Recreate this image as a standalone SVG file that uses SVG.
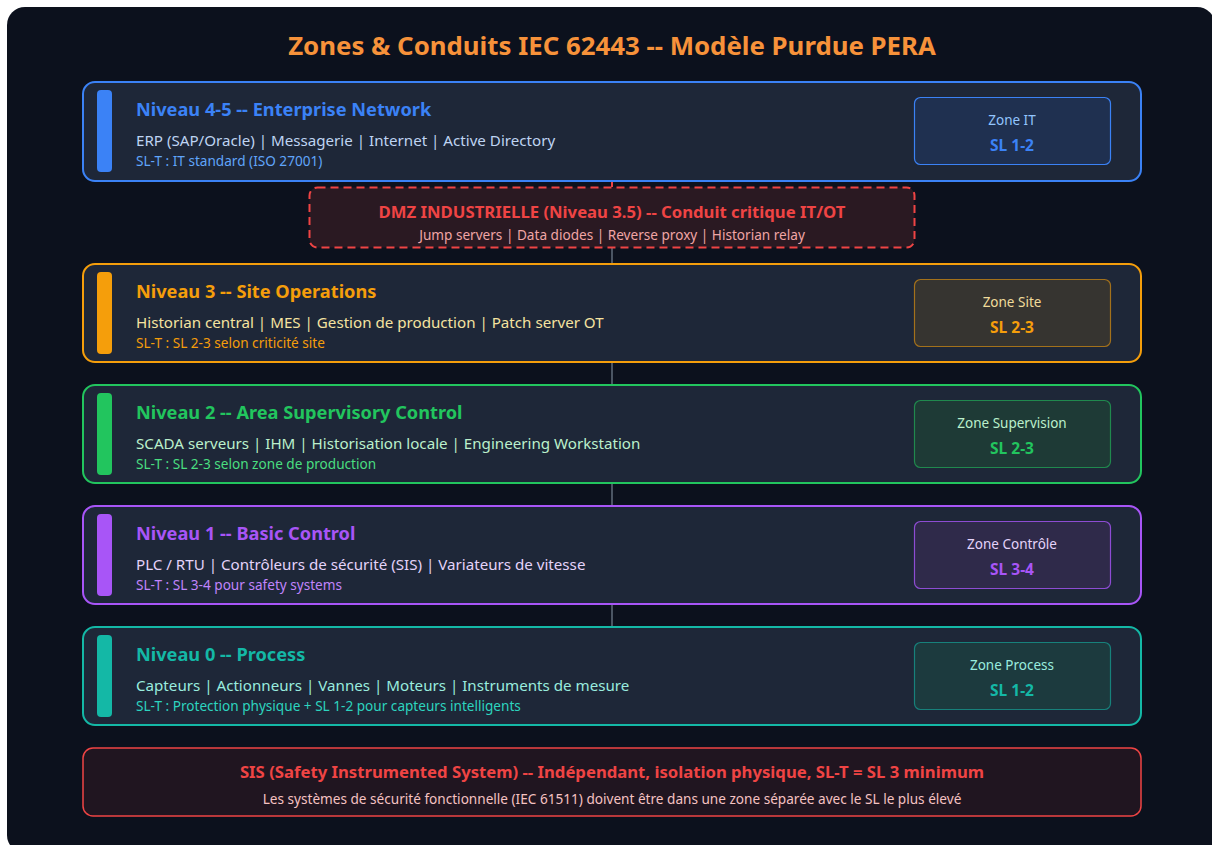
<svg xmlns="http://www.w3.org/2000/svg" width="1212" height="845" viewBox="0 0 1212 845">
<style>
text{font-family:"Noto Sans","Liberation Sans",sans-serif}
.lvl{fill:#1e2738;stroke-width:2}
.ttl{font-size:18.2px;font-weight:700}
.body{font-size:15.15px}
.slt{font-size:13.6px}
.zl{font-size:13.5px;text-anchor:middle}
.zs{font-size:15.5px;font-weight:700;text-anchor:middle}
.conn{stroke:#4b5563;stroke-width:2}
</style>
<rect x="7" y="7" width="1208" height="846" rx="18" fill="#0c111d"/>
<text x="612" y="55" text-anchor="middle" font-size="25.8" font-weight="700" fill="#f7923a">Zones &amp; Conduits IEC 62443 -- Modèle Purdue PERA</text>
<g id="connectors">
<line x1="612" y1="181" x2="612" y2="187" stroke="#ef4444" stroke-width="2"/>
<line class="conn" x1="612" y1="248" x2="612" y2="264"/>
<line class="conn" x1="612" y1="362" x2="612" y2="385"/>
<line class="conn" x1="612" y1="483" x2="612" y2="506"/>
<line class="conn" x1="612" y1="604" x2="612" y2="627"/>
</g>
<g id="level45" transform="translate(0,82)">
<rect class="lvl" x="83" y="0" width="1058" height="99" rx="12" stroke="#3b82f6"/>
<rect x="97" y="8" width="15" height="82" rx="4" fill="#3b82f6"/>
<text class="ttl" x="136" y="34" fill="#3b82f6">Niveau 4-5 -- Enterprise Network</text>
<text class="body" x="136" y="64" fill="#bfd4f2">ERP (SAP/Oracle) | Messagerie | Internet | Active Directory</text>
<text class="slt" x="136" y="83.5" fill="#60a5fa">SL-T : IT standard (ISO 27001)</text>
<rect x="914.5" y="15.5" width="196" height="67" rx="6" fill="#1f3050" stroke="#3b82f6" stroke-width="1.2"/>
<text class="zl" x="1012" y="42.5" fill="#93c5fd">Zone IT</text>
<text class="zs" x="1012" y="68.5" fill="#3b82f6">SL 1-2</text>
</g>
<g id="dmz">
<rect x="309.5" y="187.5" width="605" height="60" rx="8" fill="#2a1922" stroke="#ef4444" stroke-width="2" stroke-dasharray="8,5"/>
<text x="612" y="218" text-anchor="middle" font-size="16.7" font-weight="700" fill="#ef4444">DMZ INDUSTRIELLE (Niveau 3.5) -- Conduit critique IT/OT</text>
<text x="612" y="240" text-anchor="middle" font-size="13.6" fill="#f0a5a5">Jump servers | Data diodes | Reverse proxy | Historian relay</text>
</g>
<g id="level3" transform="translate(0,264)">
<rect class="lvl" x="83" y="0" width="1058" height="98" rx="12" stroke="#f59e0b"/>
<rect x="97" y="8" width="15" height="82" rx="4" fill="#f59e0b"/>
<text class="ttl" x="136" y="34" fill="#f59e0b">Niveau 3 -- Site Operations</text>
<text class="body" x="136" y="64" fill="#f5e3a0">Historian central | MES | Gestion de production | Patch server OT</text>
<text class="slt" x="136" y="83.5" fill="#f59e0b">SL-T : SL 2-3 selon criticité site</text>
<rect x="914.5" y="15.5" width="196" height="67" rx="6" fill="#363430" stroke="#f59e0b" stroke-opacity="0.6" stroke-width="1.2"/>
<text class="zl" x="1012" y="42.5" fill="#f1dc9a">Zone Site</text>
<text class="zs" x="1012" y="68.5" fill="#f59e0b">SL 2-3</text>
</g>
<g id="level2" transform="translate(0,385)">
<rect class="lvl" x="83" y="0" width="1058" height="98" rx="12" stroke="#22c55e"/>
<rect x="97" y="8" width="15" height="82" rx="4" fill="#22c55e"/>
<text class="ttl" x="136" y="34" fill="#22c55e">Niveau 2 -- Area Supervisory Control</text>
<text class="body" x="136" y="64" fill="#bbf0cc">SCADA serveurs | IHM | Historisation locale | Engineering Workstation</text>
<text class="slt" x="136" y="83.5" fill="#4ade80">SL-T : SL 2-3 selon zone de production</text>
<rect x="914.5" y="15.5" width="196" height="67" rx="6" fill="#1e3a36" stroke="#22c55e" stroke-opacity="0.6" stroke-width="1.2"/>
<text class="zl" x="1012" y="42.5" fill="#bbf0cc">Zone Supervision</text>
<text class="zs" x="1012" y="68.5" fill="#22c55e">SL 2-3</text>
</g>
<g id="level1" transform="translate(0,506)">
<rect class="lvl" x="83" y="0" width="1058" height="98" rx="12" stroke="#a855f7"/>
<rect x="97" y="8" width="15" height="82" rx="4" fill="#a855f7"/>
<text class="ttl" x="136" y="34" fill="#a855f7">Niveau 1 -- Basic Control</text>
<text class="body" x="136" y="64" fill="#e4d3fa">PLC / RTU | Contrôleurs de sécurité (SIS) | Variateurs de vitesse</text>
<text class="slt" x="136" y="83.5" fill="#c084fc">SL-T : SL 3-4 pour safety systems</text>
<rect x="914.5" y="15.5" width="196" height="67" rx="6" fill="#2f2a4a" stroke="#a855f7" stroke-opacity="0.8" stroke-width="1.2"/>
<text class="zl" x="1012" y="42.5" fill="#e4d3fa">Zone Contrôle</text>
<text class="zs" x="1012" y="68.5" fill="#a855f7">SL 3-4</text>
</g>
<g id="level0" transform="translate(0,627)">
<rect class="lvl" x="83" y="0" width="1058" height="98" rx="12" stroke="#14b8a6"/>
<rect x="97" y="8" width="15" height="82" rx="4" fill="#14b8a6"/>
<text class="ttl" x="136" y="34" fill="#14b8a6">Niveau 0 -- Process</text>
<text class="body" x="136" y="64" fill="#99ecdf">Capteurs | Actionneurs | Vannes | Moteurs | Instruments de mesure</text>
<text class="slt" x="136" y="83.5" fill="#2dd4bf">SL-T : Protection physique + SL 1-2 pour capteurs intelligents</text>
<rect x="914.5" y="15.5" width="196" height="67" rx="6" fill="#1c3a3e" stroke="#14b8a6" stroke-opacity="0.6" stroke-width="1.2"/>
<text class="zl" x="1012" y="42.5" fill="#99ecdf">Zone Process</text>
<text class="zs" x="1012" y="68.5" fill="#14b8a6">SL 1-2</text>
</g>
<g id="sis">
<rect x="83" y="748" width="1058" height="68" rx="10" fill="#201520" stroke="#ef4444" stroke-width="1.5"/>
<text x="612" y="778" text-anchor="middle" font-size="16.7" font-weight="700" fill="#ef4444">SIS (Safety Instrumented System) -- Indépendant, isolation physique, SL-T = SL 3 minimum</text>
<text x="612" y="804" text-anchor="middle" font-size="13.6" fill="#f5c2c2">Les systèmes de sécurité fonctionnelle (IEC 61511) doivent être dans une zone séparée avec le SL le plus élevé</text>
</g>
</svg>
